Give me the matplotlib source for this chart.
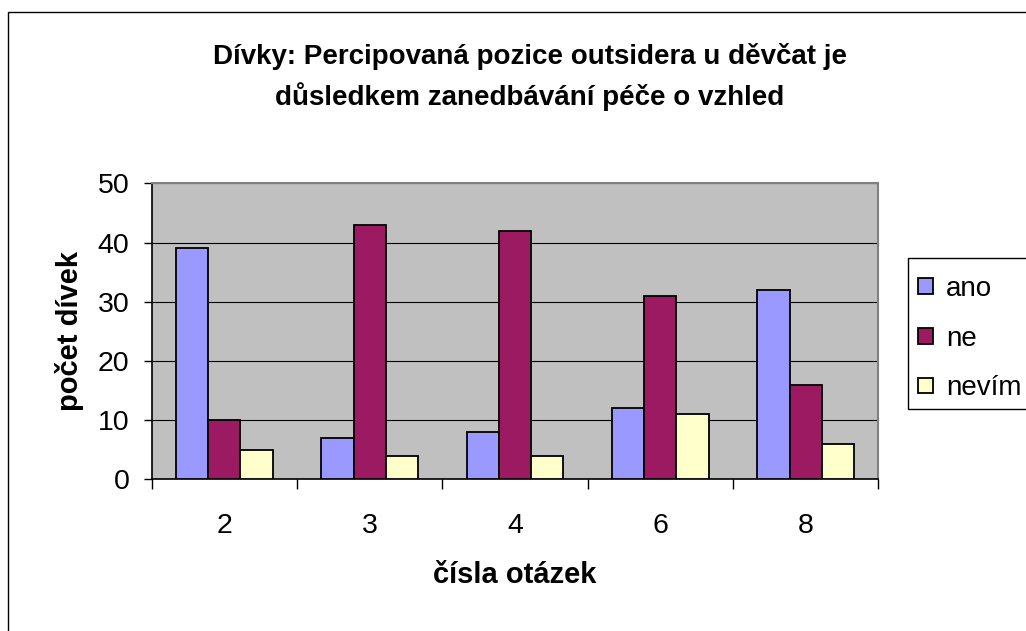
# grouped bar chart: girls' answers per question
import numpy as np
import matplotlib
matplotlib.use('Agg')
import matplotlib.pyplot as plt
import matplotlib.patches as patches

plt.rcParams['font.family'] = ['Liberation Sans', 'DejaVu Sans']

# data
questions = ['2', '3', '4', '6', '8']
ano = [39, 7, 8, 12, 32]
ne = [10, 43, 42, 31, 16]
nevim = [5, 4, 4, 11, 6]
series_names = ['ano', 'ne', 'nevím']
colors = ['#9999FF', '#9B1A62', '#FFFFCC']

W, H = 1026, 631
fig = plt.figure(figsize=(W / 100, H / 100), dpi=100)

# outer chart frame (cut at right and bottom like the original)
fig.patches.append(patches.Rectangle((8 / W, -0.05), 1.1, 1 - 12 / H + 0.05,
                                     transform=fig.transFigure, fill=False,
                                     edgecolor='black', linewidth=1.0, zorder=-2))
# legend frame, also cut at the right edge
fig.patches.append(patches.Rectangle((908 / W, 1 - 409 / H), 0.2, (409 - 258) / H,
                                     transform=fig.transFigure, facecolor='white',
                                     edgecolor='black', linewidth=1.0, zorder=-1))

ax = fig.add_axes([151.7 / W, 151.7 / H, (878.3 - 151.7) / W, (479.3 - 183.3) / H])
ax.set_facecolor('#C0C0C0')

x = np.arange(len(questions))
bw = 0.222
for k, (vals, name, col) in enumerate(zip([ano, ne, nevim], series_names, colors)):
    ax.bar(x + (k - 1) * bw, vals, width=bw, color=col, edgecolor='black',
           linewidth=1.3, label=name, zorder=3)

ax.set_xlim(-0.5, len(questions) - 0.5)
ax.set_ylim(0, 50)
ax.set_yticks(range(0, 51, 10))
ax.yaxis.grid(True, color='black', linewidth=0.8, zorder=1)
ax.set_axisbelow(True)

# category boundary ticks on x
ax.set_xticks(np.arange(-0.5, len(questions), 1.0))
ax.set_xticklabels([])
ax.set_xticks(x, minor=True)
ax.set_xticklabels(questions, minor=True)
ax.tick_params(axis='x', which='major', direction='out', length=7, width=1, color='black')
ax.tick_params(axis='x', which='minor', length=0, pad=24, labelsize=20.5)
ax.tick_params(axis='y', direction='out', length=6, width=1, color='black', pad=10, labelsize=20.5)

for side in ['top', 'right']:
    ax.spines[side].set_color('#808080')
    ax.spines[side].set_linewidth(1.5)
ax.spines['left'].set_color('black')
ax.spines['bottom'].set_color('black')
ax.spines['left'].set_linewidth(1.2)
ax.spines['bottom'].set_linewidth(1.2)

ax.set_xlabel('čísla otázek', fontsize=21, fontweight='bold', labelpad=16)
ax.set_ylabel('počet dívek', fontsize=21, fontweight='bold', labelpad=10)

fig.text(530 / W, 1 - 77 / H,
         'Dívky: Percipovaná pozice outsidera u děvčat je\ndůsledkem zanedbávání péče o vzhled',
         ha='center', va='center', fontsize=20, fontweight='bold', linespacing=1.5)

leg = ax.legend(loc='upper left', bbox_to_anchor=(907 / W, 1 - 265 / H),
                bbox_transform=fig.transFigure, fontsize=20, frameon=False,
                handlelength=0.55, handleheight=0.5, handletextpad=0.45,
                labelspacing=0.85, borderpad=0.4, borderaxespad=0)

fig.savefig('out.png', dpi=100)
